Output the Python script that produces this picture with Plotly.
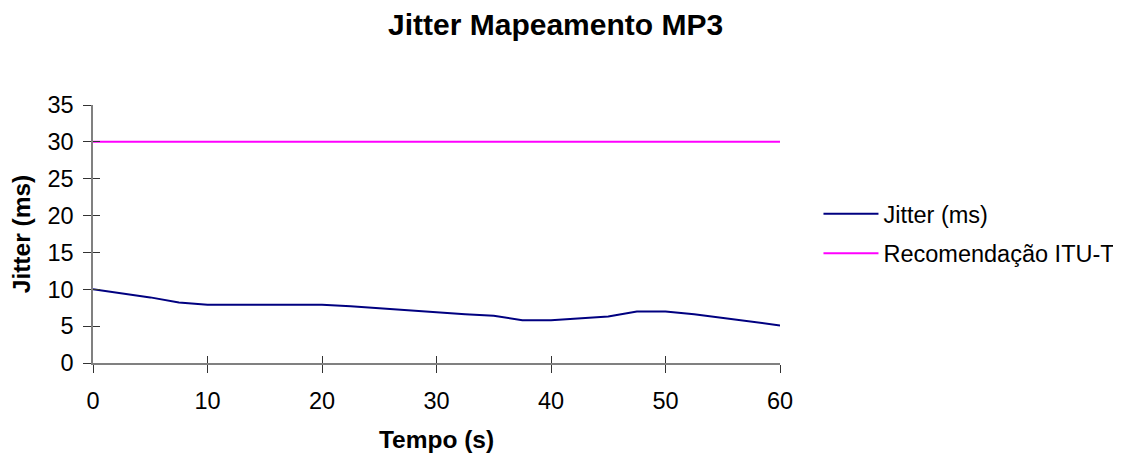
import plotly.graph_objects as go

# tempo (s) e jitter (ms)
tempo = [0, 2.5, 5, 7.5, 10, 12.5, 15, 17.5, 20, 22.5, 25, 27.5, 30,
         32.5, 35, 37.5, 40, 42.5, 45, 47.5, 50, 52.5, 55, 57.5, 60]
jitter = [10.0, 9.5, 8.9, 8.2, 7.9, 7.9, 7.9, 7.9, 7.9, 7.7, 7.4, 7.2, 6.9,
          6.6, 6.4, 5.8, 5.8, 6.0, 6.3, 7.0, 7.0, 6.6, 6.1, 5.6, 5.1]
itu_t = [30] * len(tempo)

x_ticks = [0, 10, 20, 30, 40, 50, 60]
y_ticks = [0, 5, 10, 15, 20, 25, 30, 35]

font = 'Liberation Sans, Arial, sans-serif'

fig = go.Figure()
fig.add_trace(go.Scatter(x=tempo, y=jitter, mode='lines', name='Jitter (ms)',
                         legendgroup='a',
                         line=dict(color='#000080', width=2)))
fig.add_trace(go.Scatter(x=tempo, y=itu_t, mode='lines',
                         name='Recomendação ITU-T', legendgroup='b',
                         line=dict(color='#FF00FF', width=2)))
# trace vazio para que o segundo par de eixos seja desenhado
fig.add_trace(go.Scatter(x=[], y=[], xaxis='x2', yaxis='y2',
                         showlegend=False, hoverinfo='skip'))

axis_common = dict(showgrid=False, zeroline=False, showline=True,
                   linecolor='#808080', linewidth=1.5, ticks='outside',
                   ticklen=8, tickcolor='#333333', tickwidth=1,
                   automargin=False)

fig.update_layout(
    width=1121, height=454,
    margin=dict(l=85, r=349, t=97, b=99, autoexpand=False),
    paper_bgcolor='white', plot_bgcolor='white',
    font=dict(family=font, size=23.5, color='black'),
    title=dict(text='<b>Jitter Mapeamento MP3</b>', x=547.6 / 1121,
               xref='container', xanchor='center', y=1 - 16 / 454,
               yref='container', yanchor='middle', font=dict(size=30)),
    xaxis=dict(range=[0, 60], tickvals=x_ticks, ticklabelstandoff=8,
               title=dict(text='<b>Tempo (s)</b>', standoff=18,
                          font=dict(size=24.5)),
               **axis_common),
    yaxis=dict(range=[0, 35], tickvals=y_ticks, ticklabelstandoff=5,
               title=dict(text='<b>Jitter (ms)</b>', standoff=12,
                          font=dict(size=24.5)),
               **axis_common),
    # segundo par de eixos so para os ticks cruzados (estilo Excel)
    xaxis2=dict(range=[0, 60], tickvals=x_ticks, overlaying='x', anchor='y',
                side='bottom', showticklabels=False, showgrid=False,
                zeroline=False, showline=False, ticks='inside', ticklen=7,
                tickcolor='#333333', automargin=False),
    yaxis2=dict(range=[0, 35], tickvals=y_ticks, overlaying='y', anchor='x',
                side='left', showticklabels=False, showgrid=False,
                zeroline=False, showline=False, ticks='inside', ticklen=7,
                tickcolor='#333333', automargin=False),
    legend=dict(x=1.056, xanchor='left', y=0.5, yanchor='middle',
                font=dict(size=23.5), traceorder='grouped', tracegroupgap=6,
                itemwidth=55, bgcolor='rgba(0,0,0,0)'),
)

fig.write_html('out.html')
